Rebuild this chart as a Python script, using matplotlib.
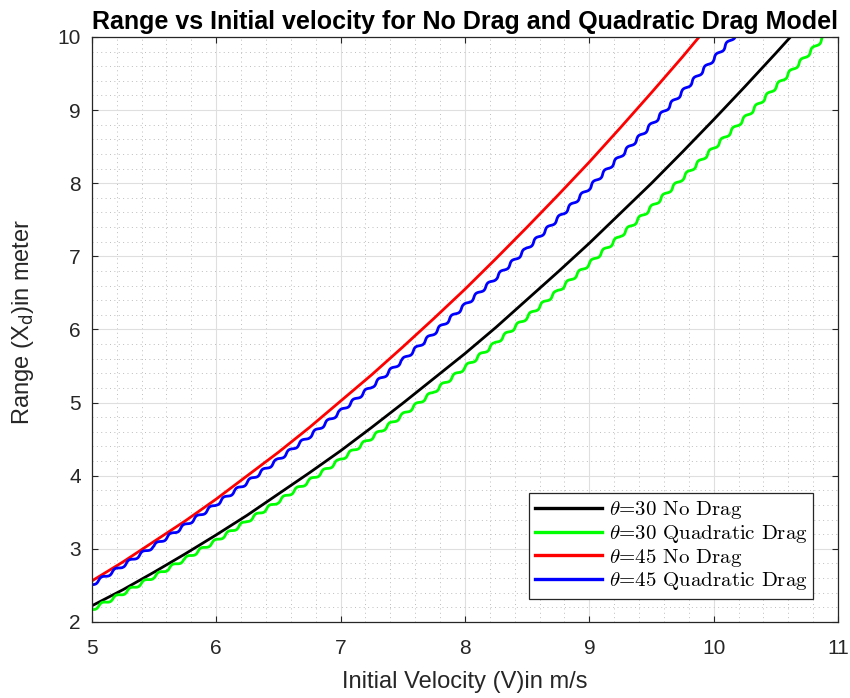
import matplotlib
matplotlib.use('Agg')
import matplotlib.pyplot as plt
from matplotlib.ticker import MultipleLocator

plt.rcParams['font.family'] = ['Liberation Sans', 'DejaVu Sans']

# initial velocity samples (m/s)
velocity = [5.00, 5.25, 5.50, 5.75, 6.00, 6.25, 6.50, 6.75, 7.00, 7.25, 7.50, 7.75, 8.00,
            8.25, 8.50, 8.75, 9.00, 9.25, 9.50, 9.75, 10.00, 10.25, 10.50, 10.75, 11.00]

# range (m) for each launch angle / drag model
range_30_nodrag = [2.22, 2.44, 2.68, 2.93, 3.19, 3.46, 3.75, 4.04, 4.34, 4.66, 4.99, 5.33, 5.67,
                   6.03, 6.41, 6.79, 7.18, 7.59, 8.00, 8.43, 8.87, 9.32, 9.78, 10.25, 10.73]
range_30_quad = [2.17, 2.39, 2.62, 2.86, 3.11, 3.38, 3.65, 3.93, 4.22, 4.52, 4.83, 5.15, 5.48,
                 5.82, 6.17, 6.53, 6.90, 7.28, 7.67, 8.07, 8.48, 8.89, 9.32, 9.75, 10.20]
range_45_nodrag = [2.56, 2.82, 3.10, 3.38, 3.68, 4.00, 4.32, 4.66, 5.02, 5.38, 5.76, 6.15, 6.55,
                   6.97, 7.40, 7.84, 8.29, 8.76, 9.24, 9.73, 10.24, 10.75, 11.28, 11.83, 12.38]
range_45_quad = [2.51, 2.77, 3.04, 3.32, 3.61, 3.91, 4.22, 4.54, 4.88, 5.22, 5.58, 5.95, 6.33,
                 6.71, 7.11, 7.52, 7.94, 8.37, 8.80, 9.25, 9.70, 10.17, 10.64, 11.12, 11.61]

labels = ['$\\theta$=30 No Drag', '$\\theta$=30 Quadratic Drag',
          '$\\theta$=45 No Drag', '$\\theta$=45 Quadratic Drag']

dark = '#262626'

fig = plt.figure(figsize=(8.5, 6.98), dpi=100)
ax = fig.add_axes([0.108, 0.109, 0.878, 0.838])

l1, = ax.plot(velocity, range_30_nodrag, color='black', lw=2.0, label=labels[0])
l2, = ax.plot(velocity, range_30_quad, color='#00ff00', lw=2.0, label=labels[1])
l3, = ax.plot(velocity, range_45_nodrag, color='red', lw=2.0, label=labels[2])
l4, = ax.plot(velocity, range_45_quad, color='blue', lw=2.0, label=labels[3])

# drag model was integrated with a fixed time step -> stair-step ripple
for ln in (l2, l4):
    ln.set_sketch_params(scale=1.5, length=16, randomness=1)

ax.set_xlim(5, 11)
ax.set_ylim(2, 10)
ax.xaxis.set_major_locator(MultipleLocator(1))
ax.yaxis.set_major_locator(MultipleLocator(1))
ax.xaxis.set_minor_locator(MultipleLocator(0.2))
ax.yaxis.set_minor_locator(MultipleLocator(0.2))

ax.grid(True, which='major', color='#dfdfdf', lw=0.8, ls='-')
ax.grid(True, which='minor', color='#bdbdbd', lw=0.7, ls=(0, (1, 3.5)))
ax.set_axisbelow(True)

for s in ax.spines.values():
    s.set_color(dark)
    s.set_linewidth(0.9)
ax.tick_params(which='major', direction='in', length=4.5, width=0.8,
               top=True, right=True, colors=dark, labelsize=15)
ax.tick_params(axis='x', which='major', pad=12.5)
ax.tick_params(axis='y', which='major', pad=8)
ax.tick_params(which='minor', length=0)

ax.set_title('Range vs Initial velocity for No Drag and Quadratic Drag Model',
             fontsize=18, fontweight='bold', pad=6)
ax.set_xlabel('Initial Velocity (V)in m/s', fontsize=17, color=dark, labelpad=9)
ax.set_ylabel('Range (X$_{\\mathrm{d}}$)in meter', fontsize=17, color=dark, labelpad=15)
ax.yaxis.label.set_y(0.513)

leg = ax.legend(loc='lower right', bbox_to_anchor=(0.967, 0.04), fancybox=False,
                framealpha=1, edgecolor=dark, prop={'family': 'cmr10', 'size': 15},
                handlelength=3.2, handletextpad=0.33, labelspacing=0.08,
                borderpad=0.3, borderaxespad=0)
leg.get_frame().set_linewidth(0.9)
for t in leg.get_texts():
    t.set_math_fontfamily('cm')
for h in leg.get_lines():
    h.set_sketch_params(None)
    h.set_linewidth(2.4)

fig.savefig('out.png', dpi=100)
